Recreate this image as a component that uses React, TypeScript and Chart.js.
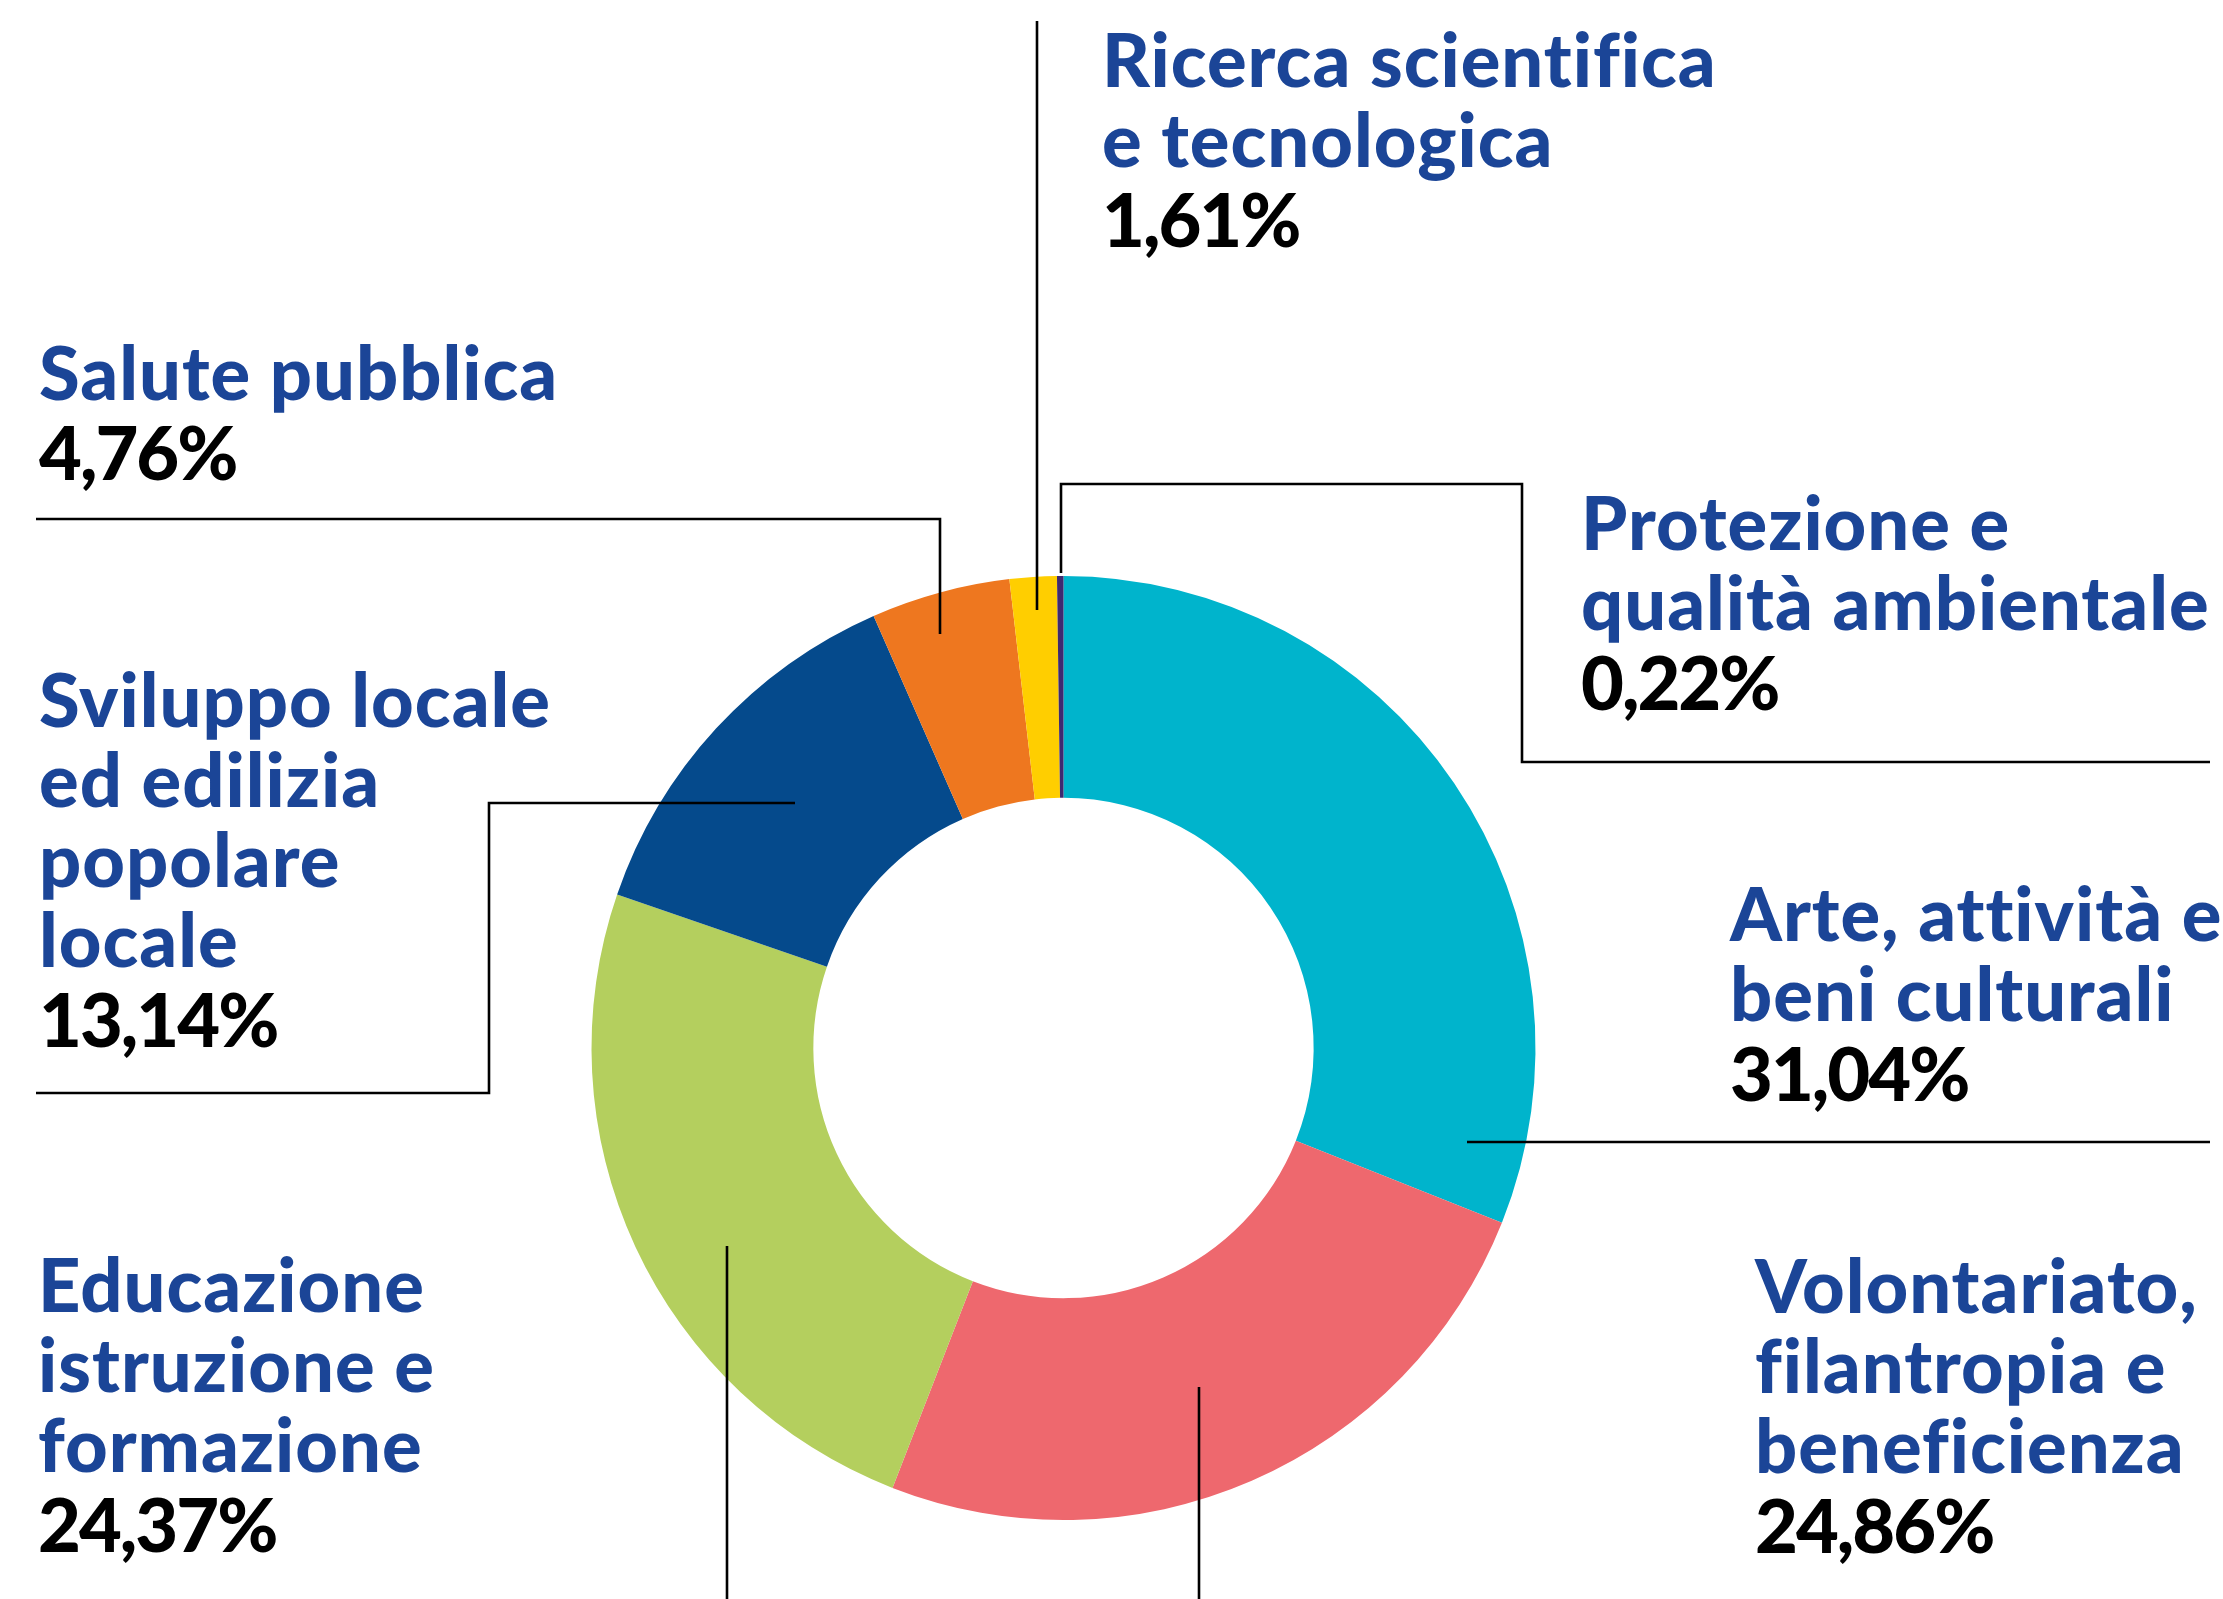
import React, { useEffect, useRef } from 'react';
import { Chart, registerables } from 'chart.js';

Chart.register(...registerables);

// ---- data ----
const categories = [
  'Arte, attività e beni culturali',
  'Volontariato, filantropia e beneficienza',
  'Educazione istruzione e formazione',
  'Sviluppo locale ed edilizia popolare locale',
  'Salute pubblica',
  'Ricerca scientifica e tecnologica',
  'Protezione e qualità ambientale',
];
const shares = [31.04, 24.86, 24.37, 13.14, 4.76, 1.61, 0.22];
const valueLabels = ['31,04%', '24,86%', '24,37%', '13,14%', '4,76%', '1,61%', '0,22%'];
const labelLines = [
  ['Arte, attività e', 'beni culturali'],
  ['Volontariato,', 'filantropia e', 'beneficienza'],
  ['Educazione', 'istruzione e', 'formazione'],
  ['Sviluppo locale', 'ed edilizia', 'popolare', 'locale'],
  ['Salute pubblica'],
  ['Ricerca scientifica', 'e tecnologica'],
  ['Protezione e', 'qualità ambientale'],
];
const sliceColors = ['#00B4CC', '#EE686E', '#B4CF5E', '#054A8C', '#EE771F', '#FFCE00', '#3E2A70'];

// ---- layout (positions only) ----
const W = 2223;
const H = 1599;
const LINE_GAP = 80;
const FONT_SIZE = 74;
const FONT_FAMILY = 'Lato, "Noto Sans", sans-serif';
const TEXT_BLUE = '#1B4597';
const labelPos = [
  { x: 1730, y: 941 },
  { x: 1755, y: 1313 },
  { x: 38, y: 1312 },
  { x: 39, y: 727 },
  { x: 39, y: 400 },
  { x: 1102, y: 87 },
  { x: 1581, y: 550 },
];
const leaders = [
  [[1467, 1142], [2210, 1142]],
  [[1199, 1387], [1199, 1599]],
  [[727, 1246], [727, 1599]],
  [[795, 803], [489, 803], [489, 1093], [36, 1093]],
  [[36, 519], [940, 519], [940, 634]],
  [[1037, 21], [1037, 610]],
  [[1061, 573], [1061, 484], [1522, 484], [1522, 762], [2210, 762]],
];

const labelPlugin = {
  id: 'labelPlugin',
  afterDraw(chart: any) {
    const ctx = chart.ctx as any;
    ctx.save();
    ctx.strokeStyle = '#000';
    ctx.lineWidth = 2.6;
    ctx.lineCap = 'butt';
    ctx.lineJoin = 'miter';
    leaders.forEach((pts) => {
      ctx.beginPath();
      pts.forEach((p, i) => (i === 0 ? ctx.moveTo(p[0], p[1]) : ctx.lineTo(p[0], p[1])));
      ctx.stroke();
    });
    ctx.textBaseline = 'alphabetic';
    ctx.textAlign = 'left';
    ctx.font = `900 ${FONT_SIZE}px ${FONT_FAMILY}`;
    const hasLS = 'letterSpacing' in ctx;
    labelLines.forEach((lines, i) => {
      const pos = labelPos[i];
      ctx.fillStyle = TEXT_BLUE;
      if (hasLS) ctx.letterSpacing = '1px';
      lines.forEach((t, j) => ctx.fillText(t, pos.x, pos.y + j * LINE_GAP));
      ctx.fillStyle = '#000';
      if (hasLS) ctx.letterSpacing = '-2px';
      ctx.fillText(valueLabels[i], pos.x, pos.y + lines.length * LINE_GAP);
    });
    ctx.restore();
  },
};

export default function App() {
  const ref = useRef<HTMLCanvasElement | null>(null);
  useEffect(() => {
    document.body.style.margin = '0';
    document.body.style.overflow = 'hidden';
    const canvas = ref.current!;
    const chart = new Chart(canvas, {
      type: 'doughnut',
      data: {
        labels: categories,
        datasets: [
          {
            data: shares,
            backgroundColor: sliceColors,
            borderWidth: 0,
          },
        ],
      },
      options: {
        responsive: false,
        animation: false,
        cutout: '53%',
        rotation: 0,
        layout: { padding: { left: 591.5, right: 687.5, top: 576, bottom: 79 } },
        plugins: {
          legend: { display: false },
          tooltip: { enabled: false },
        },
      },
      plugins: [labelPlugin],
    });
    return () => chart.destroy();
  }, []);
  return (
    <div style={{ width: W, height: H, position: 'relative', background: '#fff' }}>
      <canvas ref={ref} width={W} height={H} style={{ width: W, height: H, display: 'block' }} />
    </div>
  );
}
